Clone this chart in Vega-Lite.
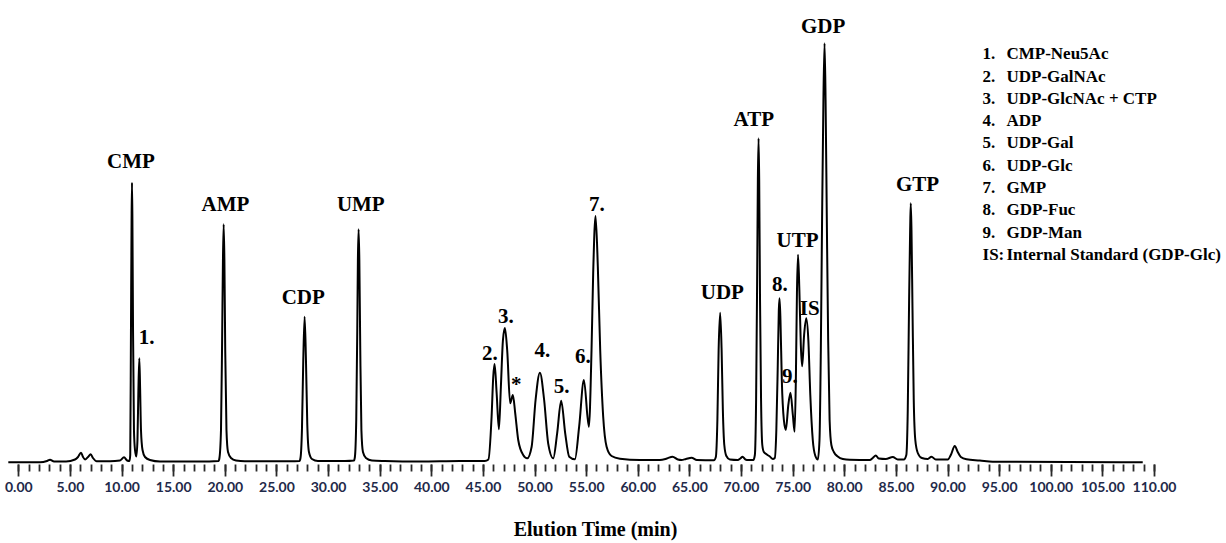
{
  "$schema": "https://vega.github.io/schema/vega-lite/v6.json",
  "width": 1146,
  "height": 464,
  "autosize": "none",
  "padding": {"left": 8, "top": 0, "right": 72, "bottom": 79},
  "background": "white",
  "config": {"view": {"stroke": null}},
  "datasets": {
    "trace": [
      {"time": -0.97, "signal": 1.7}, {"time": 2.10, "signal": 1.7}, {"time": 2.78, "signal": 3}, {"time": 3.07, "signal": 4.2},
      {"time": 3.46, "signal": 2.5}, {"time": 4.62, "signal": 2.5}, {"time": 5.49, "signal": 4.5}, {"time": 5.78, "signal": 7},
      {"time": 6.07, "signal": 11.3}, {"time": 6.27, "signal": 7}, {"time": 6.46, "signal": 4.5}, {"time": 6.75, "signal": 7},
      {"time": 7.01, "signal": 9.7}, {"time": 7.23, "signal": 6}, {"time": 7.59, "signal": 2.7}, {"time": 8.88, "signal": 2.7},
      {"time": 9.85, "signal": 3.5}, {"time": 10.24, "signal": 6.7}, {"time": 10.53, "signal": 3.5}, {"time": 10.77, "signal": 3},
      {"time": 10.84, "signal": 9}, {"time": 10.91, "signal": 134}, {"time": 10.97, "signal": 244}, {"time": 11.01, "signal": 281.3},
      {"time": 11.05, "signal": 244}, {"time": 11.11, "signal": 134}, {"time": 11.20, "signal": 34}, {"time": 11.30, "signal": 14},
      {"time": 11.43, "signal": 7.5}, {"time": 11.54, "signal": 24}, {"time": 11.63, "signal": 74}, {"time": 11.72, "signal": 105.7},
      {"time": 11.80, "signal": 74}, {"time": 11.88, "signal": 34}, {"time": 12.03, "signal": 14}, {"time": 12.27, "signal": 7},
      {"time": 12.75, "signal": 4}, {"time": 13.72, "signal": 2.5}, {"time": 17.59, "signal": 2.5}, {"time": 19.39, "signal": 3},
      {"time": 19.48, "signal": 6}, {"time": 19.63, "signal": 34}, {"time": 19.74, "signal": 124}, {"time": 19.82, "signal": 204},
      {"time": 19.89, "signal": 239.7}, {"time": 19.96, "signal": 204}, {"time": 20.04, "signal": 114}, {"time": 20.16, "signal": 34},
      {"time": 20.31, "signal": 12}, {"time": 20.60, "signal": 6}, {"time": 21.08, "signal": 3.5}, {"time": 21.95, "signal": 2.7},
      {"time": 26.31, "signal": 2.7}, {"time": 27.23, "signal": 3}, {"time": 27.33, "signal": 6}, {"time": 27.47, "signal": 34},
      {"time": 27.60, "signal": 104}, {"time": 27.73, "signal": 147.3}, {"time": 27.86, "signal": 104}, {"time": 27.99, "signal": 39},
      {"time": 28.15, "signal": 12}, {"time": 28.44, "signal": 5}, {"time": 29.02, "signal": 3}, {"time": 31.64, "signal": 3},
      {"time": 32.51, "signal": 3.5}, {"time": 32.60, "signal": 7}, {"time": 32.73, "signal": 44}, {"time": 32.83, "signal": 134},
      {"time": 32.89, "signal": 204}, {"time": 32.96, "signal": 234.7}, {"time": 33.03, "signal": 204}, {"time": 33.12, "signal": 114},
      {"time": 33.23, "signal": 34}, {"time": 33.38, "signal": 12}, {"time": 33.67, "signal": 6}, {"time": 34.25, "signal": 3.5},
      {"time": 35.51, "signal": 3}, {"time": 38.90, "signal": 2.5}, {"time": 42.77, "signal": 3}, {"time": 45.19, "signal": 3},
      {"time": 45.53, "signal": 4.5}, {"time": 45.84, "signal": 47.3}, {"time": 46.00, "signal": 87.3}, {"time": 46.13, "signal": 100},
      {"time": 46.33, "signal": 70.7}, {"time": 46.55, "signal": 34.7}, {"time": 46.74, "signal": 77.3}, {"time": 46.94, "signal": 124},
      {"time": 47.13, "signal": 136}, {"time": 47.35, "signal": 114}, {"time": 47.64, "signal": 60.7}, {"time": 47.90, "signal": 69},
      {"time": 48.13, "signal": 50.7}, {"time": 48.42, "signal": 24}, {"time": 48.90, "signal": 9}, {"time": 49.29, "signal": 5.7},
      {"time": 49.72, "signal": 17.3}, {"time": 50.10, "signal": 64}, {"time": 50.52, "signal": 91.3}, {"time": 50.93, "signal": 64},
      {"time": 51.32, "signal": 20.7}, {"time": 51.81, "signal": 5.7}, {"time": 52.19, "signal": 30.7}, {"time": 52.58, "signal": 63.3},
      {"time": 52.97, "signal": 30.7}, {"time": 53.36, "signal": 7.3}, {"time": 53.91, "signal": 4.7}, {"time": 54.32, "signal": 37.3},
      {"time": 54.78, "signal": 84}, {"time": 55.26, "signal": 37.3}, {"time": 55.52, "signal": 114}, {"time": 55.68, "signal": 190.7},
      {"time": 55.91, "signal": 248}, {"time": 56.13, "signal": 197.3}, {"time": 56.36, "signal": 114}, {"time": 56.65, "signal": 47.3},
      {"time": 56.98, "signal": 17.3}, {"time": 57.46, "signal": 8}, {"time": 58.27, "signal": 5.3}, {"time": 60.20, "signal": 4},
      {"time": 62.14, "signal": 4}, {"time": 62.82, "signal": 5.5}, {"time": 63.37, "signal": 7.3}, {"time": 63.88, "signal": 4.5},
      {"time": 64.24, "signal": 4}, {"time": 64.66, "signal": 5}, {"time": 65.21, "signal": 6.3}, {"time": 65.72, "signal": 4},
      {"time": 67.37, "signal": 3.7}, {"time": 67.56, "signal": 7}, {"time": 67.71, "signal": 44}, {"time": 67.83, "signal": 114},
      {"time": 67.98, "signal": 151.3}, {"time": 68.12, "signal": 114}, {"time": 68.24, "signal": 54}, {"time": 68.38, "signal": 19},
      {"time": 68.58, "signal": 8}, {"time": 68.92, "signal": 4.5}, {"time": 69.69, "signal": 4}, {"time": 69.93, "signal": 5.5},
      {"time": 70.15, "signal": 7.3}, {"time": 70.37, "signal": 5}, {"time": 70.56, "signal": 4}, {"time": 71.19, "signal": 4},
      {"time": 71.34, "signal": 9}, {"time": 71.46, "signal": 64}, {"time": 71.56, "signal": 184}, {"time": 71.63, "signal": 284},
      {"time": 71.70, "signal": 325.7}, {"time": 71.76, "signal": 284}, {"time": 71.84, "signal": 164}, {"time": 71.94, "signal": 64},
      {"time": 72.06, "signal": 19}, {"time": 72.21, "signal": 12}, {"time": 72.50, "signal": 9.5}, {"time": 72.79, "signal": 7.5},
      {"time": 73.08, "signal": 5}, {"time": 73.27, "signal": 6}, {"time": 73.42, "signal": 34}, {"time": 73.55, "signal": 94},
      {"time": 73.66, "signal": 154}, {"time": 73.73, "signal": 165.7}, {"time": 73.82, "signal": 144}, {"time": 73.95, "signal": 84},
      {"time": 74.15, "signal": 44}, {"time": 74.34, "signal": 34}, {"time": 74.58, "signal": 59}, {"time": 74.79, "signal": 71.3},
      {"time": 75.02, "signal": 49}, {"time": 75.19, "signal": 32.3}, {"time": 75.31, "signal": 84}, {"time": 75.42, "signal": 174},
      {"time": 75.52, "signal": 209.3}, {"time": 75.65, "signal": 174}, {"time": 75.79, "signal": 119}, {"time": 75.92, "signal": 97.7},
      {"time": 76.11, "signal": 129}, {"time": 76.32, "signal": 145.7}, {"time": 76.52, "signal": 124}, {"time": 76.71, "signal": 69},
      {"time": 76.95, "signal": 24}, {"time": 77.20, "signal": 8}, {"time": 77.44, "signal": 4.5}, {"time": 77.60, "signal": 24},
      {"time": 77.73, "signal": 114}, {"time": 77.85, "signal": 244}, {"time": 77.98, "signal": 364}, {"time": 78.09, "signal": 420.7},
      {"time": 78.19, "signal": 364}, {"time": 78.31, "signal": 244}, {"time": 78.44, "signal": 124}, {"time": 78.58, "signal": 44},
      {"time": 78.75, "signal": 19}, {"time": 78.99, "signal": 12}, {"time": 79.37, "signal": 7.5}, {"time": 79.86, "signal": 5},
      {"time": 80.54, "signal": 4.2}, {"time": 82.47, "signal": 4}, {"time": 82.76, "signal": 6}, {"time": 83.05, "signal": 8.5},
      {"time": 83.34, "signal": 5.5}, {"time": 84.02, "signal": 5}, {"time": 84.70, "signal": 7}, {"time": 85.18, "signal": 4.5},
      {"time": 85.77, "signal": 4.5}, {"time": 86.01, "signal": 9}, {"time": 86.15, "signal": 54}, {"time": 86.28, "signal": 164},
      {"time": 86.38, "signal": 234}, {"time": 86.44, "signal": 260.7}, {"time": 86.51, "signal": 234}, {"time": 86.61, "signal": 154},
      {"time": 86.73, "signal": 64}, {"time": 86.88, "signal": 24}, {"time": 87.12, "signal": 11}, {"time": 87.51, "signal": 6},
      {"time": 88.09, "signal": 5}, {"time": 88.45, "signal": 7.3}, {"time": 88.86, "signal": 4.5}, {"time": 90.03, "signal": 4.5},
      {"time": 90.32, "signal": 9}, {"time": 90.70, "signal": 18}, {"time": 90.99, "signal": 12}, {"time": 91.29, "signal": 7},
      {"time": 91.84, "signal": 4.7}, {"time": 93.13, "signal": 3.5}, {"time": 94.38, "signal": 2.3}, {"time": 108.91, "signal": 1.7}
    ],
    "peaks": [
      {"label": "CMP", "time": 10.91, "signal": 295.7},
      {"label": "1.", "time": 12.43, "signal": 120},
      {"label": "AMP", "time": 20.06, "signal": 253.3},
      {"label": "CDP", "time": 27.60, "signal": 160},
      {"label": "UMP", "time": 33.17, "signal": 253.3},
      {"label": "2.", "time": 45.68, "signal": 104},
      {"label": "3.", "time": 47.23, "signal": 141},
      {"label": "*", "time": 48.24, "signal": 73},
      {"label": "4.", "time": 50.76, "signal": 107.3},
      {"label": "5.", "time": 52.62, "signal": 71},
      {"label": "6.", "time": 54.68, "signal": 101},
      {"label": "7.", "time": 56.04, "signal": 253},
      {"label": "UDP", "time": 68.19, "signal": 164.7},
      {"label": "ATP", "time": 71.24, "signal": 338.3},
      {"label": "8.", "time": 73.76, "signal": 173.3},
      {"label": "UTP", "time": 75.48, "signal": 217.3},
      {"label": "IS", "time": 76.66, "signal": 149},
      {"label": "9.", "time": 74.73, "signal": 80.7},
      {"label": "GDP", "time": 77.95, "signal": 430.7},
      {"label": "GTP", "time": 87.10, "signal": 273.3}
    ],
    "key": [
      {"rank": 1, "num": "1.", "name": "CMP-Neu5Ac"},
      {"rank": 2, "num": "2.", "name": "UDP-GalNAc"},
      {"rank": 3, "num": "3.", "name": "UDP-GlcNAc + CTP"},
      {"rank": 4, "num": "4.", "name": "ADP"},
      {"rank": 5, "num": "5.", "name": "UDP-Gal"},
      {"rank": 6, "num": "6.", "name": "UDP-Glc"},
      {"rank": 7, "num": "7.", "name": "GMP"},
      {"rank": 8, "num": "8.", "name": "GDP-Fuc"},
      {"rank": 9, "num": "9.", "name": "GDP-Man"},
      {"rank": 10, "num": "IS:", "name": "Internal Standard (GDP-Glc)"}
    ]
  },
  "resolve": {"scale": {"y": "independent"}, "axis": {"x": "independent"}},
  "layer": [
    {
      "data": {"name": "trace"},
      "mark": {"type": "line", "color": "black", "strokeWidth": 2, "interpolate": "monotone"},
      "encoding": {
        "x": {
          "field": "time", "type": "quantitative",
          "scale": {"domain": [-1, 110], "nice": false, "zero": false},
          "axis": {
            "orient": "bottom",
            "title": "Elution Time (min)",
            "values": [0, 5, 10, 15, 20, 25, 30, 35, 40, 45, 50, 55, 60, 65, 70, 75, 80, 85, 90, 95, 100, 105, 110],
            "format": ".2f",
            "domain": false, "grid": false,
            "tickSize": 12, "tickWidth": 1.8, "tickColor": "#2a2a2a",
            "labelFont": "Lato", "labelFontSize": 14, "labelFontWeight": "bold", "labelColor": "#1f2a4a",
            "labelPadding": 4, "labelFlush": false, "labelOverlap": false,
            "titleFont": "Liberation Serif", "titleFontSize": 20, "titleFontWeight": "bold", "titleColor": "black",
            "titleX": 587, "titleY": 71, "titleBaseline": "alphabetic", "titleAlign": "center"
          }
        },
        "y": {
          "field": "signal", "type": "quantitative",
          "scale": {"domain": [0, 464], "nice": false, "zero": true},
          "axis": null
        }
      }
    },
    {
      "data": {"name": "peaks"},
      "mark": {"type": "text", "font": "Liberation Serif", "fontSize": 21, "fontWeight": "bold", "color": "black", "align": "center", "baseline": "alphabetic"},
      "encoding": {
        "x": {
          "field": "time", "type": "quantitative",
          "scale": {"domain": [-1, 110], "nice": false, "zero": false},
          "axis": {
            "orient": "bottom",
            "title": null,
            "values": [0,1,2,3,4,5,6,7,8,9,10,11,12,13,14,15,16,17,18,19,20,21,22,23,24,25,26,27,28,29,30,31,32,33,34,35,36,37,38,39,40,41,42,43,44,45,46,47,48,49,50,51,52,53,54,55,56,57,58,59,60,61,62,63,64,65,66,67,68,69,70,71,72,73,74,75,76,77,78,79,80,81,82,83,84,85,86,87,88,89,90,91,92,93,94,95,96,97,98,99,100,101,102,103,104,105,106,107,108,109,110],
            "labels": false, "domain": false, "grid": false,
            "tickSize": 7, "tickWidth": 1.8, "tickColor": "#2a2a2a"
          }
        },
        "y": {
          "field": "signal", "type": "quantitative",
          "scale": {"domain": [0, 464], "nice": false, "zero": true},
          "axis": null
        },
        "text": {"field": "label"}
      }
    },
    {
      "data": {"name": "key"},
      "mark": {"type": "text", "font": "Liberation Serif", "fontSize": 17, "fontWeight": "bold", "color": "black", "align": "left", "baseline": "alphabetic"},
      "encoding": {
        "x": {"datum": 93.39, "type": "quantitative", "scale": {"domain": [-1, 110], "nice": false, "zero": false}, "axis": null},
        "y": {"field": "rank", "type": "quantitative", "scale": {"domain": [-1.659, 19.148], "reverse": true, "nice": false, "zero": false}, "axis": null},
        "text": {"field": "num"}
      }
    },
    {
      "data": {"name": "key"},
      "mark": {"type": "text", "font": "Liberation Serif", "fontSize": 17, "fontWeight": "bold", "color": "black", "align": "left", "baseline": "alphabetic"},
      "encoding": {
        "x": {"datum": 95.71, "type": "quantitative", "scale": {"domain": [-1, 110], "nice": false, "zero": false}, "axis": null},
        "y": {"field": "rank", "type": "quantitative", "scale": {"domain": [-1.659, 19.148], "reverse": true, "nice": false, "zero": false}, "axis": null},
        "text": {"field": "name"}
      }
    }
  ]
}
